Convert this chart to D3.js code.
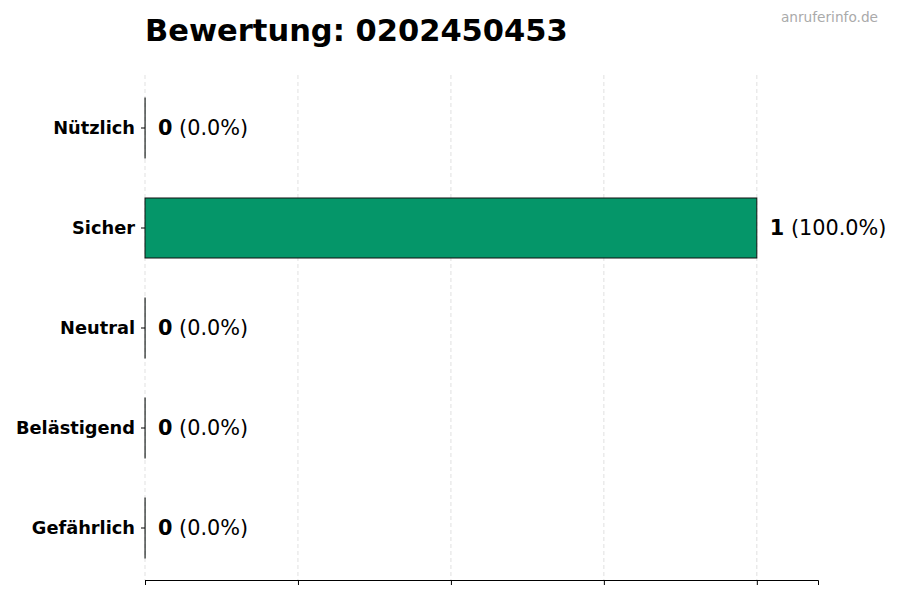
<!DOCTYPE html>
<html>
<head>
<meta charset="utf-8">
<script src="https://cdn.jsdelivr.net/npm/d3@7"></script>
<style>
  body { margin: 0; background: #fff; }
  svg { font-family: "DejaVu Sans", sans-serif; }
</style>
</head>
<body>
<div id="chart"></div>
<script>
// data
var categories = ["Nützlich", "Sicher", "Neutral", "Belästigend", "Gefährlich"];
var counts = [0, 1, 0, 0, 0];
var percents = ["0.0%", "100.0%", "0.0%", "0.0%", "0.0%"];
var xTicks = [0, 0.25, 0.5, 0.75, 1.0];

var width = 900, height = 600;
var plotLeft = 145, plotRight = 818, plotTop = 75, plotBottom = 580;

var svg = d3.select("#chart").append("svg")
	.attr("width", width)
	.attr("height", height);

var x = d3.scaleLinear().domain([0, 1.1]).range([plotLeft, plotRight]);
var y = d3.scaleBand().domain(categories).range([plotTop + 3, plotBottom - 2])
	.paddingInner(0.4).paddingOuter(0.2);

// dashed vertical grid
svg.append("g").selectAll("line")
	.data(xTicks)
	.enter().append("line")
	.attr("x1", function (d) { return x(d); })
	.attr("x2", function (d) { return x(d); })
	.attr("y1", plotTop)
	.attr("y2", plotBottom)
	.attr("stroke", "#d9d9d9")
	.attr("stroke-width", 0.8)
	.attr("stroke-dasharray", "4,3");

// bars - zero bars keep a hairline so the outline still shows
svg.append("g").selectAll("rect")
	.data(counts)
	.enter().append("rect")
	.attr("x", x(0))
	.attr("y", function (d, i) { return y(categories[i]); })
	.attr("width", function (d) { return Math.max(x(d) - x(0), 0.1); })
	.attr("height", y.bandwidth())
	.attr("fill", "#059669")
	.attr("stroke", "#111")
	.attr("stroke-width", 1);

// bottom axis, no labels
var xAxis = svg.append("g")
	.attr("transform", "translate(0," + plotBottom + ")")
	.call(d3.axisBottom(x).tickValues(xTicks).tickFormat("").tickSizeOuter(0).tickSize(5));
xAxis.select(".domain").attr("stroke", "#000").attr("stroke-width", 1);
xAxis.selectAll(".tick line").attr("stroke", "#000");

// y axis: ticks and bold labels, no spine
var yAxis = svg.append("g")
	.attr("transform", "translate(" + plotLeft + ",0)")
	.call(d3.axisLeft(y).tickSize(4).tickPadding(6));
yAxis.select(".domain").remove();
yAxis.selectAll(".tick line").attr("stroke", "#000");
yAxis.selectAll(".tick text")
	.attr("font-family", "DejaVu Sans, sans-serif")
	.attr("font-size", 17.8)
	.attr("font-weight", "bold")
	.attr("fill", "#000");

// value labels
var labels = svg.append("g").selectAll("text")
	.data(counts)
	.enter().append("text")
	.attr("x", function (d) { return x(d) + 13; })
	.attr("y", function (d, i) { return y(categories[i]) + y.bandwidth() / 2; })
	.attr("dy", "0.35em")
	.attr("font-size", 20.8)
	.attr("fill", "#000");
labels.append("tspan").attr("font-weight", "bold").text(function (d) { return d; });
labels.append("tspan").text(function (d, i) { return " (" + percents[i] + ")"; });

// title + watermark
svg.append("text")
	.attr("x", plotLeft)
	.attr("y", 41)
	.attr("font-size", 30.5)
	.attr("font-weight", "bold")
	.attr("fill", "#000")
	.text("Bewertung: 0202450453");

svg.append("text")
	.attr("x", 878)
	.attr("y", 22)
	.attr("text-anchor", "end")
	.attr("font-size", 13.7)
	.attr("fill", "#aaaaaa")
	.text("anruferinfo.de");
</script>
</body>
</html>
